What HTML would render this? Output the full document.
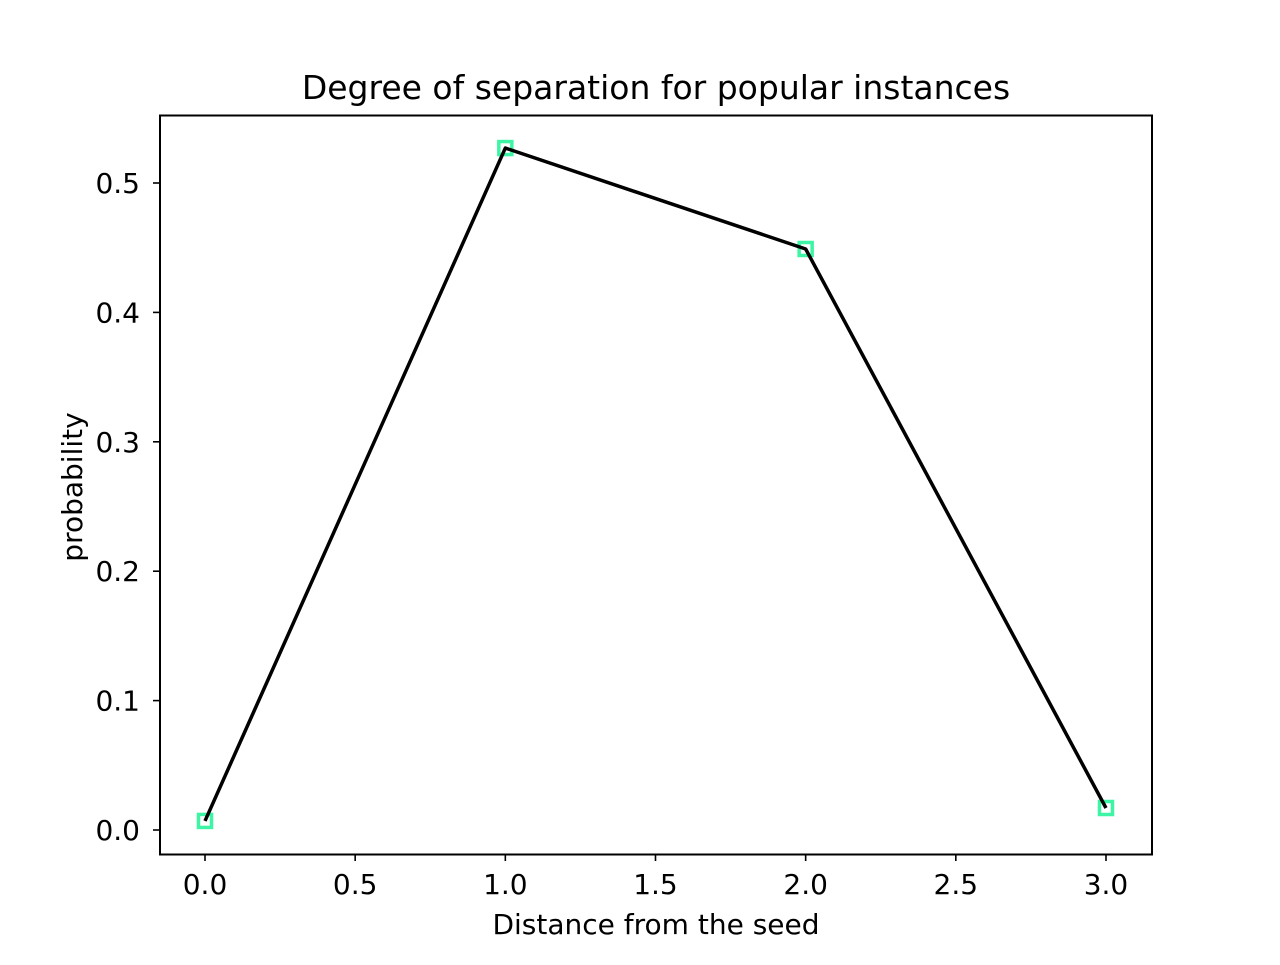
<!DOCTYPE html>
<html><head><meta charset="utf-8"><style>
body{margin:0;background:#fff}
svg text{font-family:"DejaVu Sans","Liberation Sans",sans-serif;fill:#000}
</style></head><body>
<svg width="1280" height="960" viewBox="0 0 1280 960">
<text x="656" y="99" font-size="33" text-anchor="middle">Degree of separation for popular instances</text>
<g id="ticks"></g>
<g id="series"></g>
<rect x="160" y="115.5" width="992" height="739" fill="none" stroke="#000" stroke-width="2"/>
<text x="656" y="934" font-size="28" text-anchor="middle">Distance from the seed</text>
<text transform="translate(82,487) rotate(-90)" font-size="28" text-anchor="middle">probability</text>
</svg>
<script>
const xValues=[0,1,2,3];
const yValues=[0.007,0.527,0.449,0.017];
const xTicks=[0,0.5,1,1.5,2,2.5,3];
const xTickLabels=["0.0","0.5","1.0","1.5","2.0","2.5","3.0"];
const yTicks=[0,0.1,0.2,0.3,0.4,0.5];
const yTickLabels=["0.0","0.1","0.2","0.3","0.4","0.5"];
const xs=v=>205+v*300.33;
const ys=v=>830-v*1294;
const NS="http://www.w3.org/2000/svg";
const tg=document.getElementById('ticks'),sg=document.getElementById('series');
function mk(tag,attrs,parent){const e=document.createElementNS(NS,tag);for(const k in attrs)e.setAttribute(k,attrs[k]);parent.appendChild(e);return e;}
xTicks.forEach((t,i)=>{
 const l=mk('line',{x1:xs(t),x2:xs(t),y1:854,y2:861,stroke:'#000','stroke-width':1.6},tg);
 
 
 const tx=mk('text',{x:xs(t),y:894,'font-size':28,'text-anchor':'middle'},tg);tx.textContent=xTickLabels[i];
 
 
});
yTicks.forEach((t,i)=>{
 const l=mk('line',{x1:153,x2:160,y1:ys(t),y2:ys(t),stroke:'#000','stroke-width':1.6},tg);
 
 
 const tx=mk('text',{x:140,y:ys(t)+10,'font-size':28,'text-anchor':'end'},tg);tx.textContent=yTickLabels[i];
 
 
});
xValues.forEach((x,i)=>{
 const r=mk('rect',{x:xs(x)-6.5,y:ys(yValues[i])-6.5,width:13,height:13,fill:'none',stroke:'#3ef5a5','stroke-width':3.5},sg);
 
 
});
const p=mk('polyline',{points:xValues.map((x,i)=>xs(x)+','+ys(yValues[i])).join(' '),fill:'none',stroke:'#000','stroke-width':3.5,'stroke-linejoin':'round'},sg);


</script>
</body></html>
